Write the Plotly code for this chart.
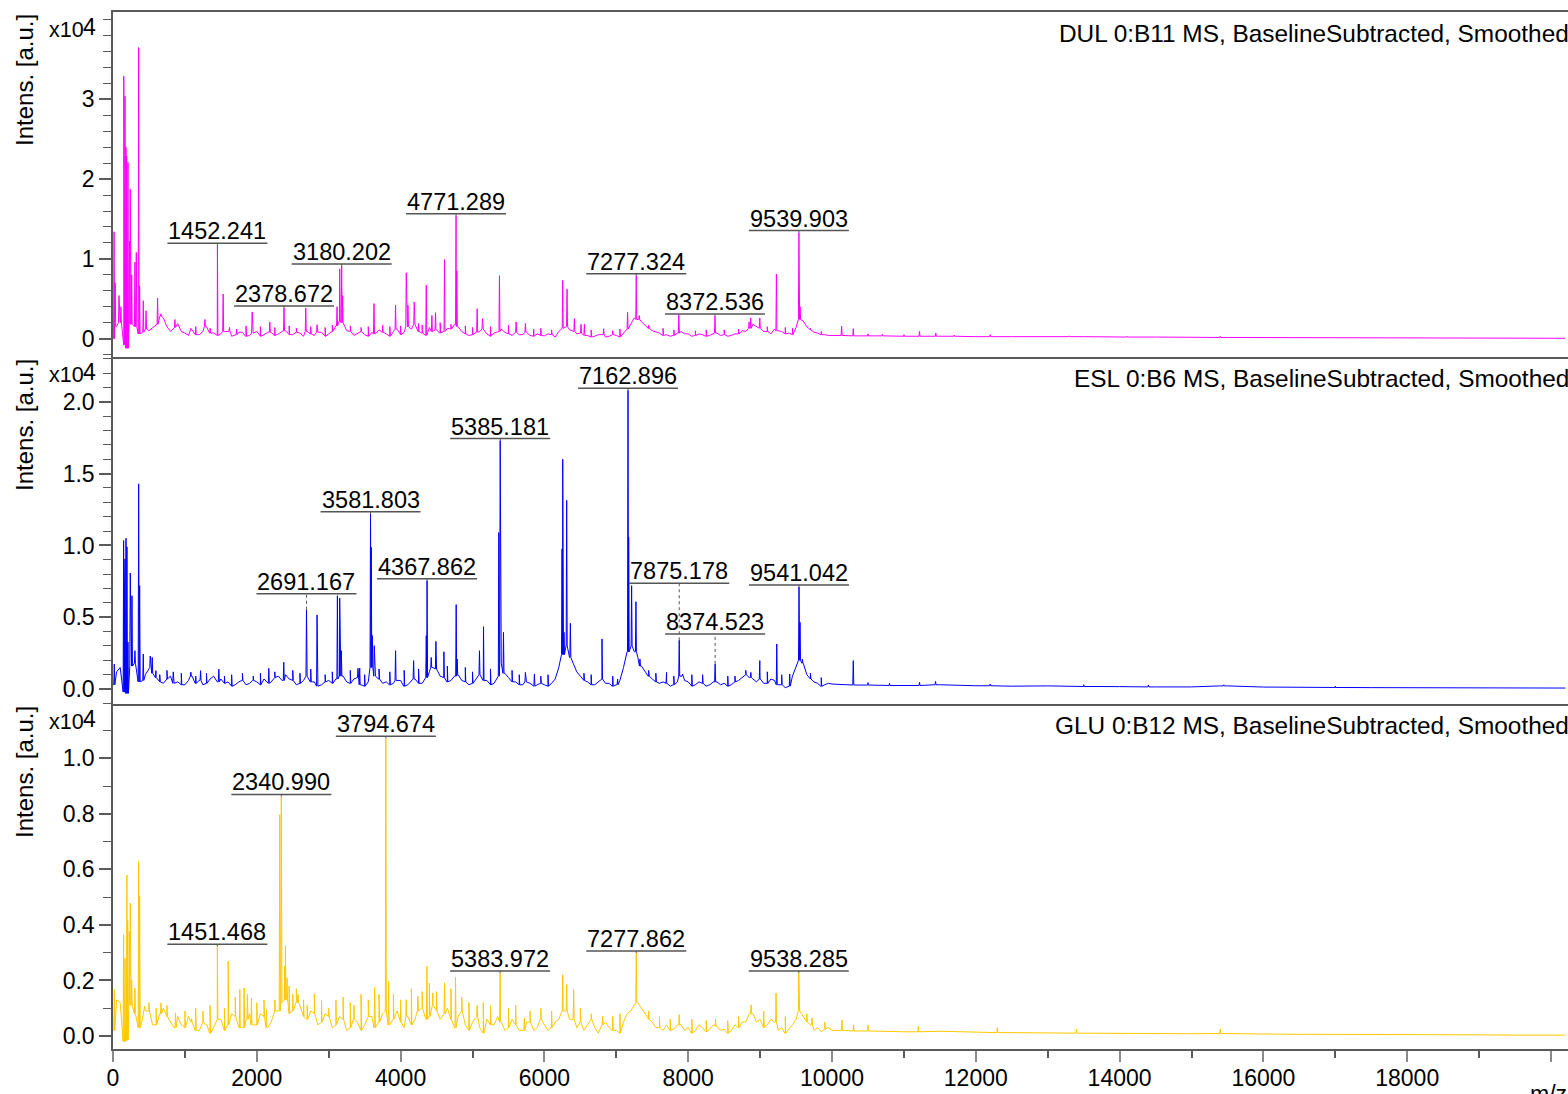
import plotly.graph_objects as go

# ---------------- data ----------------
base_mz = list(range(0, 10001, 50)) + list(range(10500, 20001, 500)) + [20200]

dul_base = [0, 1500, 2000, -800, -1200, 1800, 1500, 600, 800, 1200, 1000, 1400, 1800, 2800, 2600, 1500, 900, 1400, 1900, 900,
            700, 400, 1100, 500, 500, 900, 1500, 700, 700, 400, 600, 900, 900, 300, 500, 800, 800, 300, 400, 700,
            900, 300, 500, 800, 800, 400, 600, 900, 1000, 500, 500, 800, 700, 300, 900, 600, 400, 800, 800, 300,
            600, 900, 1600, 2200, 2000, 1000, 900, 400, 700, 900, 500, 300, 800, 600, 1100, 800, 600, 300, 900, 1200,
            500, 800, 1500, 1200, 1800, 900, 700, 400, 1400, 900, 1100, 700, 900, 1300, 1200, 1800, 1500, 900, 600, 400,
            500, 800, 900, 1200, 600, 300, 700, 900, 1200, 800, 600, 400, 800, 500, 500, 800, 400, 300, 600, 400,
            350, 600, 500, 200, 900, 1300, 1500, 1100, 900, 600, 700, 400, 400, 200, 300, 500, 500, 200, 300, 500,
            400, 200, 700, 1200, 1800, 2600, 2400, 2100, 1600, 1300, 1000, 800, 700, 400, 500, 300, 400, 700, 900, 600,
            600, 300, 400, 600, 500, 300, 400, 700, 700, 400, 500, 300, 400, 600, 600, 1000, 900, 1300, 1800, 1500,
            1300, 900, 900, 600, 1200, 1000, 900, 600, 700, 500, 1400, 2400, 2200, 1500, 1100, 800, 700, 500, 500, 400,
            400,
            350, 300, 300, 250, 250, 200, 250, 200, 200, 150,
            150, 150, 100, 100, 100, 100, 80, 80, 60, 50, 50]

esl_base = [300, 1200, 1500, -200, -300, 1600, 1800, 500, 600, 1000, 1500, 1100, 800, 500, 400, 700, 900, 400, 500, 300,
            300, 600, 900, 400, 600, 300, 400, 700, 900, 500, 700, 400, 500, 200, 300, 500, 600, 300, 400, 600,
            500, 300, 700, 400, 500, 800, 900, 600, 1000, 700, 600, 300, 400, 600, 900, 500, 500, 200, 300, 500,
            600, 400, 700, 900, 900, 500, 400, 700, 800, 300, 200, 500, 1500, 900, 700, 400, 500, 300, 400, 600,
            600, 200, 300, 600, 700, 400, 400, 800, 1200, 1500, 1400, 900, 800, 500, 600, 900, 1000, 600, 500, 300,
            400, 700, 1000, 600, 600, 300, 400, 900, 1800, 1100, 800, 500, 500, 300, 300, 500, 400, 200, 300, 400,
            300, 200, 400, 700, 1500, 2400, 3000, 2200, 1800, 1200, 900, 600, 500, 300, 300, 500, 700, 400, 400, 200,
            300, 600, 1500, 2600, 3000, 2600, 2200, 1600, 1200, 900, 700, 500, 400, 500, 400, 200, 300, 500, 900, 600,
            500, 200, 300, 500, 400, 200, 300, 500, 500, 300, 400, 200, 300, 500, 600, 800, 1000, 800, 700, 500,
            700, 400, 400, 700, 600, 300, 300, 100, 200, 900, 1500, 2000, 1800, 1000, 700, 500, 400, 200, 300, 400,
            350,
            280, 250, 300, 230, 200, 220, 180, 170, 150, 150,
            220, 140, 120, 110, 100, 100, 90, 80, 80, 70, 70]

glu_base = [200, 1300, 1200, -200, -150, 1100, 800, 300, 500, 900, 900, 400, 400, 800, 1000, 700, 500, 300, 700, 400,
            300, 700, 500, 200, 200, 500, 400, 100, 300, 600, 600, 200, 400, 800, 700, 300, 300, 600, 800, 400,
            400, 800, 700, 300, 500, 900, 900, 1200, 1300, 800, 900, 1200, 1100, 700, 600, 900, 800, 400, 500, 800,
            700, 300, 400, 700, 600, 200, 300, 600, 500, 200, 400, 700, 700, 300, 500, 800, 900, 400, 600, 900,
            500, 300, 700, 400, 600, 900, 1000, 600, 700, 1100, 900, 600, 800, 1000, 600, 300, 700, 900, 400, 200,
            500, 700, 300, 100, 600, 400, 400, 700, 500, 200, 300, 600, 400, 200, 200, 500, 500, 200, 300, 600,
            400, 200, 300, 500, 600, 900, 900, 600, 600, 300, 500, 200, 400, 600, 300, 100, 400, 500, 300, 200,
            200, 100, 500, 800, 900, 1100, 1200, 1000, 800, 600, 500, 300, 300, 200, 400, 200, 250, 400, 400, 200,
            300, 100, 200, 400, 300, 150, 250, 400, 350, 200, 250, 100, 200, 400, 300, 500, 500, 800, 800, 500,
            600, 300, 400, 600, 500, 200, 300, 100, 250, 400, 600, 900, 700, 500, 400, 200, 300, 150, 250, 300,
            200,
            180, 150, 170, 130, 120, 110, 100, 90, 100, 80,
            90, 70, 60, 60, 50, 50, 40, 40, 30, 30, 30]

dul_pk_mz = [15, 30, 83, 110, 150, 167, 180, 190, 208, 230, 240, 260, 305, 324, 357, 370,
             421, 460, 620, 667, 861, 1083, 1278, 1532, 1935, 2181, 2681, 2838, 3116,
             3153, 3194, 3630, 3930, 4079, 4102, 4190, 4357, 4435, 4486, 4611, 4782,
             5065, 5139, 5375, 5607, 5736, 6255, 6315, 6417, 6509, 6556, 6824, 7157,
             7319, 7870, 8847, 8870, 8996, 9227, 9556, 10134, 10296, 11217, 11444]
dul_pk_int = [13400, 7000, 5400, 4000, 32900, 30400, 24000, 22900, 22100, 12250, 18750, 8000,
              9600, 10800, 36500, 6600, 4750, 3500, 5100, 3100, 2400, 1300, 2400, 5600, 3350,
              2100, 3850, 1750, 4000, 8750, 5400, 4400, 4200, 8250, 4200, 4600, 6700, 2900,
              3250, 9900, 8500, 3750, 2500, 7900, 2100, 1900, 7300, 6200, 2500, 1800, 1800,
              1250, 3300, 2900, 3000, 2100, 2600, 2600, 8100, 4000, 1550, 1250, 900, 700]
# small noise spikes on the DUL trace
dul_sm_mz = [1150, 1350, 1620, 1720, 1850, 2050, 2250, 2450, 2550, 2750, 2950, 3050, 3300,
             3450, 3550, 3750, 3850, 4000, 4250, 4300, 4550, 4700, 4900, 5000, 5250, 5500,
             5850, 5950, 6100, 6650, 6950, 7050, 7450, 7650, 7800, 8100, 8250, 8500, 8700,
             9100, 9350, 9450, 9700, 9850, 10500, 10700, 11000, 11700, 12200, 13300, 14100, 15400]
dul_sm_int = [1500, 1300, 1400, 1200, 1600, 1500, 1400, 1600, 1300, 1500, 1400, 1700, 1600,
              1400, 1500, 1700, 1500, 1600, 1900, 1700, 2000, 1800, 1600, 1400, 1500, 1700,
              1200, 1300, 1100, 1100, 1000, 1200, 1700, 1300, 1100, 1000, 1100, 1100, 1200,
              1500, 1400, 1300, 1300, 900, 600, 550, 500, 450, 500, 350, 300, 300]

esl_pk_mz = [18, 148, 160, 167, 181, 194, 208, 240, 264, 305, 357, 371, 421, 518, 546, 597,
             838, 1083, 1218, 1472, 2167, 2375, 2838, 3121, 3153, 3176, 3407, 3431, 3592,
             3607, 3634, 3930, 4181, 4357, 4426, 4491, 4602, 4773, 4787, 5097, 5153, 5366,
             5431, 5736, 5861, 6245, 6255, 6273, 6310, 6361, 6801, 7018, 7172, 7213, 7273,
             7329, 7699, 7921, 8871, 8996, 9232, 9412, 9555, 9588, 10296, 11217, 11440, 15400]
esl_pk_int = [1740, 10340, 7000, 9060, 10500, 9900, 3270, 8080, 6500, 2670, 14290, 7200, 2440,
              2300, 2200, 1280, 1200, 1180, 1280, 1390, 1440, 1860, 5160, 6500, 6340, 2670,
              1440, 1460, 9870, 3720, 3020, 2670, 1980, 3720, 2200, 3320, 2600, 5880, 2090,
              2670, 4340, 10900, 3950, 1160, 1050, 9760, 16000, 3950, 13140, 4580, 3490, 700,
              10570, 7200, 6080, 2090, 1160, 1050, 1160, 1980, 3140, 1050, 4650, 2090, 1980,
              465, 530, 250]
esl_sm_mz = [650, 750, 950, 1150, 1300, 1550, 1650, 1800, 1950, 2050, 2250, 2500, 2600, 2750,
             2950, 3050, 3300, 3500, 3700, 3850, 4050, 4250, 4650, 4900, 5000, 5250, 5550, 5650,
             5950, 6050, 6550, 6650, 6950, 7450, 7550, 7800, 8050, 8200, 8550, 8650, 8800, 9100,
             9300, 9700, 9850, 10500, 10800, 12200, 13500, 14400, 15450, 17000]
esl_sm_int = [1000, 1300, 1100, 900, 1100, 900, 1000, 1100, 900, 1100, 1200, 1300, 1100, 1400,
              1000, 1200, 1300, 1000, 1400, 1200, 1300, 1400, 1600, 1500, 1200, 1400, 1300, 1000,
              900, 1000, 1100, 1000, 900, 1300, 1100, 900, 1000, 1000, 900, 900, 1300, 1200,
              1000, 1100, 800, 450, 400, 350, 300, 280, 300, 200]

glu_pk_mz = [18, 148, 167, 194, 204, 227, 240, 260, 305, 357, 371, 440, 667, 870, 1093, 1301,
             1602, 1764, 1824, 1926, 2134, 2319, 2389, 2398, 2421, 2574, 2650, 2700, 3000,
             3350, 3639, 3833, 4079, 4240, 4366, 4449, 4611, 4764, 5065, 5722, 6255, 6310,
             6407, 6810, 7875, 8380, 8875, 9222, 9722, 10139, 10300]
glu_pk_int = [1670, 3650, 2800, 5800, 4150, 3770, 4790, 2000, 1730, 6290, 5030, 1070, 1190,
              830, 620, 410, 2690, 1670, 1730, 1370, 950, 7970, 2510, 3230, 2090, 1490, 1300,
              1100, 1000, 1100, 1750, 1970, 1310, 1430, 2510, 1550, 1910, 2110, 1100, 650,
              2210, 1850, 1670, 710, 770, 600, 1120, 1550, 650, 580, 400]
glu_sm_mz = [500, 600, 750, 1000, 1150, 1250, 1350, 1550, 1700, 1870, 2000, 2100, 2250, 2450,
             2500, 2550, 2800, 2900, 3100, 3200, 3300, 3450, 3550, 3700, 3900, 4000, 4150, 4300,
             4400, 4500, 4700, 4850, 4950, 5150, 5250, 5500, 5600, 5800, 5950, 6100, 6500, 6650,
             6950, 7050, 7450, 7600, 7750, 8050, 8250, 8550, 8700, 9050, 9350, 9650, 9900,
             10500, 11200, 12300, 13400, 15400]
glu_sm_int = [1200, 1000, 1100, 900, 1000, 900, 1100, 1000, 1400, 1500, 1200, 1300, 1300, 1800,
              1500, 1700, 1500, 1300, 1300, 1400, 1200, 1500, 1300, 1500, 1500, 1300, 1700, 1600,
              1900, 1600, 1700, 1400, 1200, 1200, 1100, 1000, 1100, 900, 1000, 900, 1000, 800,
              700, 800, 900, 700, 600, 600, 550, 550, 700, 900, 700, 800, 500,
              400, 350, 300, 250, 250]

dul_lab_mz = [1452.241, 2378.672, 3180.202, 4771.289, 7277.324, 8372.536, 9539.903]
dul_lab_int = [11700, 3850, 9100, 15400, 7900, 2830, 13300]
esl_lab_mz = [2691.167, 3581.803, 4367.862, 5385.181, 7162.896, 7875.178, 8374.523, 9541.042]
esl_lab_int = [5520, 12200, 7550, 17300, 20800, 3400, 1750, 7100]
glu_lab_mz = [1451.468, 2340.990, 3794.674, 5383.972, 7277.862, 9538.285]
glu_lab_int = [3230, 8630, 10730, 2270, 2990, 2270]

titles = ["DUL 0:B11 MS, BaselineSubtracted, Smoothed",
          "ESL 0:B6 MS, BaselineSubtracted, Smoothed",
          "GLU 0:B12 MS, BaselineSubtracted, Smoothed"]

# ---------------- styling / layout ----------------
W, H = 1568, 1094
ML, MR, MT, MB = 113, 0, 12, 45
PW, PH = W - ML - MR, H - MT - MB
FONT = "Arial, Liberation Sans, sans-serif"
AX = "#5a5a5a"
colors = ["#FF00FF", "#0000FF", "#FFC800"]
raise_px = {2691.167: 14, 7875.178: 55, 8374.523: 28}


def px_x(px):
    return (px - ML) / PW


def px_y(py):
    return (H - MB - py) / PH


panel_tops = [12, 357, 704]
panel_bots = [357, 704, 1049]
yranges = [[-0.23, 4.095], [-0.104, 2.312], [-0.047, 1.196]]
major = [[0, 1, 2, 3], [0, 0.5, 1.0, 1.5, 2.0], [0, 0.2, 0.4, 0.6, 0.8, 1.0]]
major_txt = [["0", "1", "2", "3"], ["0.0", "0.5", "1.0", "1.5", "2.0"],
             ["0.0", "0.2", "0.4", "0.6", "0.8", "1.0"]]
minor_dt = [0.2, 0.1, 0.1]
XMAX = (W - ML) / 0.0719


def build(base, peak_sets, foot=7):
    pts = list(zip(base_mz, base))
    for pk_mz, pk_int in peak_sets:
        for m, v in zip(pk_mz, pk_int):
            j = min(range(len(base_mz)), key=lambda k: abs(base_mz[k] - m))
            f = base[j]
            pts += [(m - foot, f), (m, v), (m + foot, f)]
    pts.sort()
    return [p[0] for p in pts], [p[1] / 1e4 for p in pts]


fig = go.Figure()
series = [(dul_base, [(dul_pk_mz, dul_pk_int), (dul_sm_mz, dul_sm_int), (dul_lab_mz, dul_lab_int)],
           dul_lab_mz, dul_lab_int),
          (esl_base, [(esl_pk_mz, esl_pk_int), (esl_sm_mz, esl_sm_int), (esl_lab_mz, esl_lab_int)],
           esl_lab_mz, esl_lab_int),
          (glu_base, [(glu_pk_mz, glu_pk_int), (glu_sm_mz, glu_sm_int), (glu_lab_mz, glu_lab_int)],
           glu_lab_mz, glu_lab_int)]

annotations = []
shapes = []
for i, (b, psets, lm, li) in enumerate(series):
    sfx = "" if i == 0 else str(i + 1)
    xs, ys = build(b, psets)
    fig.add_trace(go.Scatter(x=xs, y=ys, mode="lines", xaxis="x" + sfx, yaxis="y" + sfx,
                             line=dict(color=colors[i], width=1), showlegend=False,
                             hoverinfo="skip"))
    dom = [px_y(panel_bots[i]), px_y(panel_tops[i])]
    showx = (i == 2)
    fig.layout["xaxis" + sfx] = dict(
        domain=[0, 1], anchor="y" + sfx, range=[0, XMAX],
        showline=True, mirror=(i == 0), linecolor=AX, linewidth=1.5,
        showgrid=False, zeroline=False,
        ticks="outside" if showx else "", ticklen=11, tickcolor="#8a8a8a", tickwidth=1.5,
        tickvals=list(range(0, 20001, 2000)) if showx else [],
        ticktext=[str(v) for v in range(0, 20000, 2000)] + [" "] if showx else [],
        showticklabels=showx, ticklabelstandoff=-3,
        tickfont=dict(family=FONT, size=23, color="black"),
        minor=dict(ticks="outside", ticklen=7, tickcolor=AX, tickmode="linear",
                   tick0=1000, dtick=2000) if showx else dict(ticks=""),
    )
    fig.layout["yaxis" + sfx] = dict(
        domain=dom, anchor="x" + sfx, range=yranges[i],
        showline=True, mirror=False, linecolor=AX, linewidth=1.5,
        showgrid=False, zeroline=False,
        ticks="outside", ticklen=12, tickcolor=AX, tickwidth=1.5,
        tickvals=major[i], ticktext=major_txt[i], ticklabelstandoff=0,
        tickfont=dict(family=FONT, size=23, color="black"),
        minor=dict(ticks="outside", ticklen=8, tickcolor=AX, tickwidth=1.2,
                   tickmode="linear", tick0=0, dtick=minor_dt[i]),
    )
    top = panel_tops[i]
    # panel title (clipped at right edge like the reference)
    annotations.append(dict(text=titles[i], xref="paper", yref="paper", x=1.0,
                            y=px_y(top + 6), xanchor="right", yanchor="top",
                            xshift=3, showarrow=False,
                            font=dict(family=FONT, size=24.4, color="black")))
    # x10^4 exponent label
    annotations.append(dict(text="x10", xref="paper", yref="paper",
                            x=px_x(86), y=px_y(top + 32), xanchor="right",
                            yanchor="bottom", showarrow=False,
                            font=dict(family=FONT, size=21.5, color="black")))
    annotations.append(dict(text="4", xref="paper", yref="paper",
                            x=px_x(81), y=px_y(top + 0), xanchor="left",
                            yanchor="top", showarrow=False,
                            font=dict(family=FONT, size=23, color="black")))
    # y axis title
    annotations.append(dict(text="Intens. [a.u.]", xref="paper", yref="paper",
                            x=px_x(24), y=px_y(top + 0), xanchor="center",
                            yanchor="top", textangle=-90, showarrow=False,
                            font=dict(family=FONT, size=24, color="black")))
    # peak labels
    for m, v in zip(lm, li):
        r = raise_px.get(m, 0)
        gap = 2 + r
        yv = v / 1e4
        annotations.append(dict(text=f"{m:.3f}", x=m, y=yv, xref="x" + sfx, yref="y" + sfx,
                                xanchor="center", yanchor="bottom", yshift=gap - 3,
                                showarrow=False,
                                font=dict(family=FONT, size=23.5, color="black")))
        shapes.append(dict(type="line", xref="x" + sfx, yref="y" + sfx,
                           xsizemode="pixel", xanchor=m, x0=-50, x1=50,
                           ysizemode="pixel", yanchor=yv, y0=gap, y1=gap,
                           line=dict(color="#555555", width=1.5)))
        shapes.append(dict(type="line", xref="x" + sfx, yref="y" + sfx,
                           xsizemode="pixel", xanchor=m, x0=0, x1=0,
                           ysizemode="pixel", yanchor=yv, y0=0, y1=gap,
                           line=dict(color="#555555", width=1,
                                     dash="dot" if r else "solid")))

annotations.append(dict(text="m/z", xref="paper", yref="paper", x=px_x(1548),
                        y=px_y(1079), xanchor="center", yanchor="top", showarrow=False,
                        font=dict(family=FONT, size=23, color="black")))

fig.update_layout(width=W, height=H, margin=dict(l=ML, r=MR, t=MT, b=MB),
                  paper_bgcolor="white", plot_bgcolor="white",
                  annotations=annotations, shapes=shapes, showlegend=False,
                  font=dict(family=FONT))
fig.write_html("out.html")
